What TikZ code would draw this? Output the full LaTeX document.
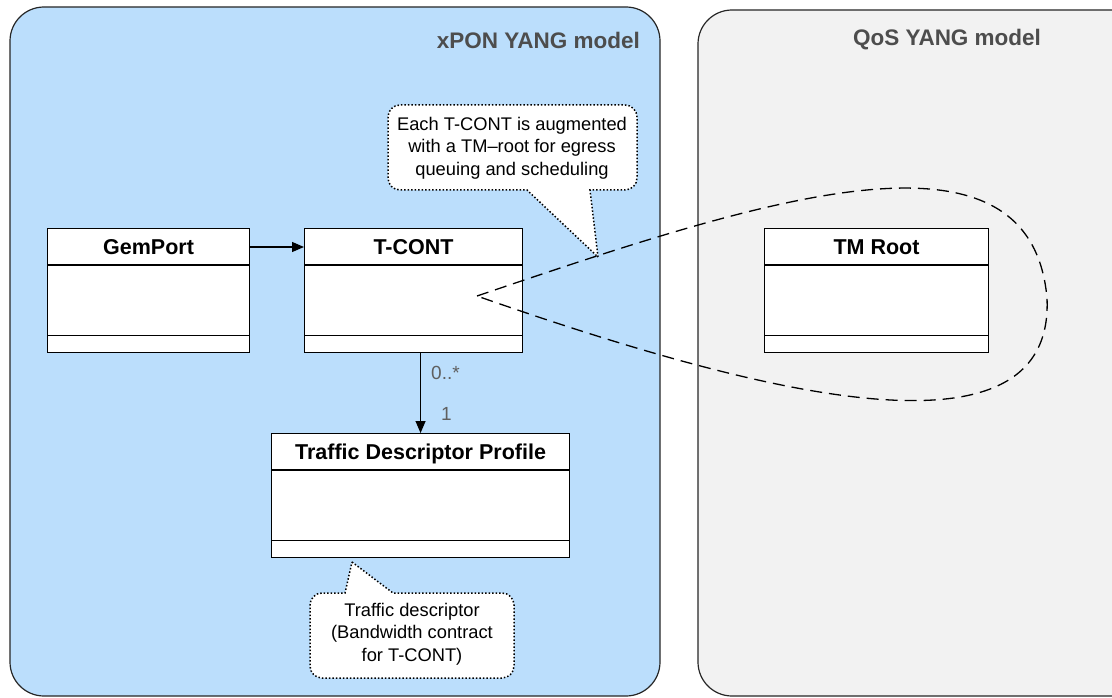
\documentclass[tikz,border=0pt]{standalone}
\usepackage{fontspec}
\setmainfont{Liberation Sans}
\usetikzlibrary{arrows.meta}
\definecolor{xponblue}{RGB}{187,222,252}
\definecolor{qosgray}{RGB}{242,242,242}
\definecolor{titlegray}{RGB}{77,77,77}
\definecolor{multgray}{RGB}{95,95,95}
\tikzset{
  panel/.style={draw=black!85, line width=1.2pt, rounded corners=34pt},
  classbox/.style={draw, line width=1.1pt, fill=white, anchor=north west, inner sep=0pt, minimum height=124pt},
  classname/.style={anchor=base, font=\fontsize{21.5}{24}\selectfont\bfseries, inner sep=0pt},
  panelname/.style={font=\fontsize{22.5}{26}\selectfont\bfseries, text=titlegray, inner sep=0pt},
  callout/.style={draw, fill=white, dotted, line width=1.5pt},
  notetext/.style={align=center, font=\fontsize{18.3}{22.5}\selectfont, inner sep=0pt},
  mult/.style={font=\fontsize{19}{22}\selectfont, text=multgray, inner sep=0pt, anchor=west},
  divider/.style={line width=1.1pt},
}
\begin{document}
\begin{tikzpicture}[x=1pt, y=-1pt]
  \useasboundingbox (0,0) rectangle (1112,698);
  % the two models
  \draw[panel, fill=xponblue] (10,7) rectangle (660,696);
  \draw[panel, fill=qosgray] (698,10) rectangle (1145,696);
  \node[panelname, anchor=east] (xpon) at (640,40) {xPON YANG model};
  \node[panelname] (qos) at (947,40) {QoS YANG model};

  % classes
  \node[classbox, minimum width=202pt] (gem) at (47,228) {};
  \node[classbox, minimum width=218pt] (tcont) at (304,228) {};
  \node[classbox, minimum width=224pt] (tmroot) at (764,228) {};
  \node[classbox, minimum width=298pt] (tdp) at (271,433) {};
  \node[classname] (gem-name) at ([yshift=-26.5pt]gem.north) {GemPort};
  \node[classname] (tcont-name) at ([yshift=-26.5pt]tcont.north) {T-CONT};
  \node[classname] (tmroot-name) at ([yshift=-26.5pt]tmroot.north) {TM Root};
  \node[classname] (tdp-name) at ([yshift=-26.5pt]tdp.north) {Traffic Descriptor Profile};
  \foreach \c in {gem, tcont, tmroot, tdp} {
    \draw[divider] ([yshift=-37pt]\c.north west) -- ([yshift=-37pt]\c.north east);
    \draw[divider] ([yshift=18pt]\c.south west) -- ([yshift=18pt]\c.south east);
  }

  % associations
  \draw[-{Triangle[length=12pt,width=10pt]}, line width=1.2pt] ([yshift=-19pt]gem.north east) -- ([yshift=-19pt]tcont.north west);
  \draw[-{Triangle[length=12pt,width=10pt]}, line width=1.2pt] (tdp.north |- tcont.south) -- (tdp.north);
  \node[mult] (many) at (431,373) {0..*};
  \node[mult] (one) at (441,414) {1};

  % augmentation
  \coordinate (aug) at (477,296);
  \draw[dashed, line width=1.3pt, dash pattern=on 12pt off 7pt] (aug) .. controls (760,200) and (1030,110) .. (1047,298)
    .. controls (1055,470) and (760,395) .. (aug);

  % notes
  \draw[callout] (598,257) -- (590,190) [rounded corners=12pt] -- (637,190) -- (637,105) -- (388,105) -- (388,190) [sharp corners] -- (527,190) -- cycle;
  \node[notetext] (note1) at (512,148) {Each T-CONT is augmented\\with a TM--root for egress\\queuing and scheduling};
  \draw[callout] (352,562) -- (393,593) [rounded corners=12pt] -- (514,593) -- (514,678) -- (310,678) -- (310,593) [sharp corners] -- (345,593) -- cycle;
  \node[notetext] (note2) at (412,634) {Traffic descriptor\\(Bandwidth contract\\for T-CONT)};
\end{tikzpicture}
\end{document}
